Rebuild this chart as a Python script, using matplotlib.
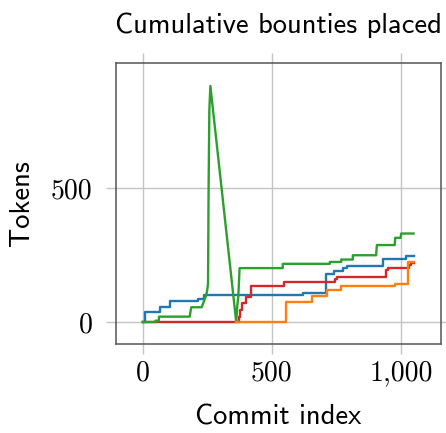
import matplotlib
matplotlib.use("Agg")
import matplotlib.pyplot as plt

# ---- data ----
blue_x = [0, 9, 67, 105, 215, 237, 620, 708, 742, 775, 792, 929, 1018, 1048]
blue_y = [0, 37, 55, 77, 86, 100, 108, 180, 192, 200, 210, 236, 247, 247]

red_x = [0, 367, 372, 378, 385, 401, 421, 545, 743, 753, 941, 948, 1030, 1038, 1048]
red_y = [0, 0, 20, 45, 70, 93, 134, 151, 162, 167, 195, 200, 212, 220, 220]

orange_x = [363, 556, 657, 712, 768, 975, 1025, 1048]
orange_y = [0, 76, 96, 120, 136, 142, 224, 224]

green_x = [0, 50, 50, 63, 63, 182, 185, 188, 228, 232, 238, 246, 250, 253, 255, 258, 262,
           362, 366, 370, 375, 542, 542, 724, 724, 768, 768, 813, 813, 903, 906, 975, 977, 998, 1000, 1048]
green_y = [0, 0, 5, 5, 20, 20, 38, 55, 55, 64, 80, 100, 120, 145, 480, 790, 880,
           0, 60, 95, 201, 201, 217, 217, 224, 224, 233, 233, 249, 249, 287, 287, 314, 314, 330, 330]

xticks = [0, 500, 1000]
xtick_labels = ["0", "500", "1,000"]
yticks = [0, 500]
ytick_labels = ["0", "500"]

title = "Cumulative bounties placed"
xlabel = "Commit index"
ylabel = "Tokens"

# ---- plot ----
fig = plt.figure(figsize=(4.46, 4.33), dpi=100)
ax = fig.add_axes([116/446, 1 - 344/433, (441-116)/446, (344-62.7)/433])

lw = 1.7
ax.plot(blue_x, blue_y, drawstyle="steps-post", color="#1f77b4", lw=lw, zorder=3)
ax.plot(red_x, red_y, drawstyle="steps-post", color="#d62728", lw=lw, zorder=3)
ax.plot(green_x, green_y, color="#2ca02c", lw=lw, zorder=3)
ax.plot(orange_x, orange_y, drawstyle="steps-post", color="#ff7f0e", lw=lw, zorder=3)

ax.set_xlim(-103, 1154)
ax.set_ylim(-82, 967)

gridc = "#c4c4c4"
ax.set_xticks(xticks)
ax.set_xticklabels(xtick_labels, family="cmr10", fontsize=20)
ax.set_yticks(yticks)
ax.set_yticklabels(ytick_labels, family="cmr10", fontsize=20)
ax.tick_params(direction="out", length=7.5, width=1.0, color=gridc,
               top=True, right=True)
ax.tick_params(axis="x", pad=4)
ax.tick_params(axis="y", pad=9.5)
ax.grid(True, color=gridc, lw=1.0, zorder=0)
ax.set_axisbelow(True)
for s in ax.spines.values():
    s.set_color("#555555")
    s.set_linewidth(1.1)

ax.set_title(title, family="cmss10", fontsize=20.5, pad=21.5)
ax.set_xlabel(xlabel, family="cmss10", fontsize=20.5, labelpad=13)
ax.set_ylabel(ylabel, family="cmss10", fontsize=20.5, labelpad=12)

fig.savefig("out.png", dpi=100)
